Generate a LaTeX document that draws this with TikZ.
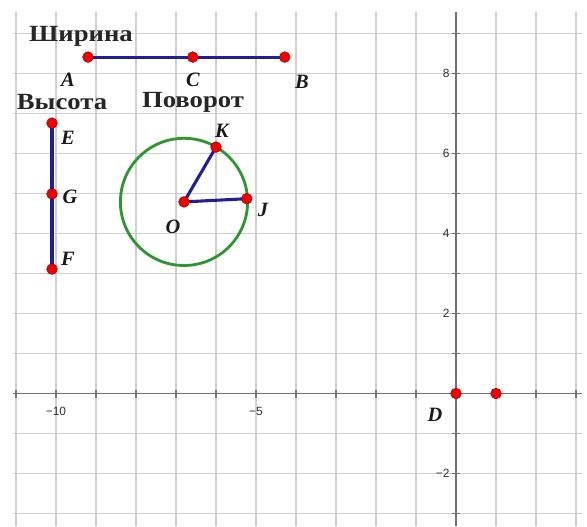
\documentclass[tikz,border=0pt]{standalone}
\usepackage{fontspec}
\setmainfont{Liberation Serif}
\newfontfamily\ticksfont{Liberation Sans}
\definecolor{segblue}{HTML}{1F1F9A}
\definecolor{circgreen}{HTML}{2E962E}
\definecolor{ptred}{HTML}{F00000}
\definecolor{gridgray}{HTML}{CFCFCF}
\definecolor{axisgray}{HTML}{707070}
\newcommand{\widetext}[1]{\scalebox{1.15}[1]{#1}}
\tikzset{
  gridline/.style={draw=gridgray, line width=0.8pt},
  axisline/.style={draw=axisgray, line width=1pt},
  tickmark/.style={draw=axisgray, line width=0.8pt},
  ticklabel/.style={font=\ticksfont\fontsize{8.5}{9}\selectfont, text=black!80, inner sep=1pt},
  segline/.style={draw=segblue, line width=2.2pt},
  circline/.style={draw=circgreen, line width=2pt},
  pt/.style={circle, fill=ptred, draw=red!55!black, line width=0.3pt, inner sep=0pt, minimum size=0.27cm},
  ptlabel/.style={font=\bfseries\itshape\fontsize{14.5}{16}\selectfont, inner sep=0pt, text=black!90},
  wordlabel/.style={font=\bfseries\fontsize{16.5}{18}\selectfont, inner sep=0pt, text=black!85},
}
\begin{document}
\begin{tikzpicture}
\useasboundingbox (-11.4,-3.3125) rectangle (3.275,9.8375);
% grid
\foreach \x in {-11,...,3} \draw[gridline] (\x,9.54) -- (\x,-3.3125);
\foreach \y in {-3,...,9} \draw[gridline] (-11.07,\y) -- (3.15,\y);
% axes
\draw[axisline] (-11.07,0) -- (3.15,0);
\draw[axisline] (0,9.54) -- (0,-3.3125);
\foreach \x in {-11,...,3} \draw[tickmark] (\x,-0.1) -- (\x,0.1);
\foreach \y in {-3,...,9} \draw[tickmark] (-0.1,\y) -- (0.1,\y);
% tick labels
\node[ticklabel, anchor=east] (t8) at (-0.12,8) {8};
\node[ticklabel, anchor=east] (t6) at (-0.12,6) {6};
\node[ticklabel, anchor=east] (t4) at (-0.12,4) {4};
\node[ticklabel, anchor=east] (t2) at (-0.12,2) {2};
\node[ticklabel, anchor=east] (tm2) at (-0.12,-2) {−2};
\node[ticklabel] (tm10) at (-10,-0.45) {−10};
\node[ticklabel] (tm5) at (-5,-0.45) {−5};
% positions
\coordinate (A) at (-9.2,8.41);
\coordinate (C) at (-6.58,8.41);
\coordinate (B) at (-4.28,8.41);
\coordinate (E) at (-10.1,6.76);
\coordinate (G) at (-10.1,4.99);
\coordinate (F) at (-10.1,3.11);
\coordinate (O) at (-6.8,4.79);
\coordinate (K) at (-6.0,6.16);
\coordinate (J) at (-5.23,4.87);
\coordinate (D) at (0,0);
\coordinate (D1) at (1,0);
% circle and segments
\draw[circline] (O) circle (1.59);
\draw[segline] (A) -- (B);
\draw[segline] (E) -- (F);
\draw[segline] (K) -- (O) -- (J);
% points
\foreach \p in {A,C,B,E,G,F,O,K,J,D,D1} \node[pt] (p\p) at (\p) {};
% labels
\node[wordlabel] (wShirina) at (-9.375,8.94) {\widetext{Ширина}};
\node[wordlabel] (wVysota) at (-9.85,7.29) {\widetext{Высота}};
\node[wordlabel] (wPovorot) at (-6.575,7.29) {\widetext{Поворот}};
\node[ptlabel] (lA) at (-9.7,7.84) {A};
\node[ptlabel] (lC) at (-6.575,7.84) {C};
\node[ptlabel] (lB) at (-3.85,7.79) {B};
\node[ptlabel] (lE) at (-9.7,6.39) {E};
\node[ptlabel] (lG) at (-9.65,4.91) {G};
\node[ptlabel] (lF) at (-9.7,3.36) {F};
\node[ptlabel] (lK) at (-5.85,6.56) {K};
\node[ptlabel] (lJ) at (-4.825,4.59) {J};
\node[ptlabel] (lO) at (-7.075,4.16) {O};
\node[ptlabel] (lD) at (-0.525,-0.54) {D};
\end{tikzpicture}
\end{document}
